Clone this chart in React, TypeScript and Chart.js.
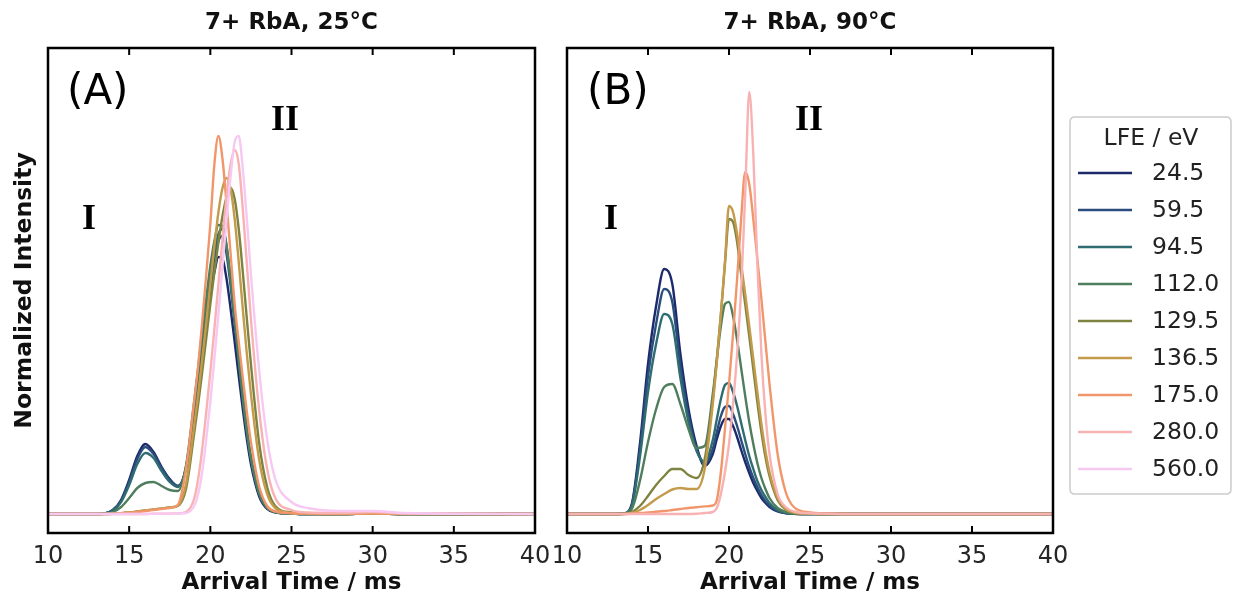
import React, { useEffect, useRef } from "react";
import { Chart, registerables } from "chart.js";
Chart.register(...registerables);

// Arrival time grid (ms)
const T = [10, 13, 13.5, 14, 14.5, 15, 15.5, 16, 16.5, 17, 17.5, 18, 18.5, 19, 19.25, 19.5, 19.75, 20, 20.25, 20.5, 20.75, 21, 21.25, 21.5, 21.75, 22, 22.25, 22.5, 23, 23.5, 24, 25, 26, 28, 30, 32, 40];

const LFE_LABELS = ["24.5", "59.5", "94.5", "112.0", "129.5", "136.5", "175.0", "280.0", "560.0"];
const COLORS = ["#1c2a6b", "#2b4d7d", "#2e6c72", "#4f7e5e", "#7f8340", "#c49a4b", "#f1966b", "#f8b2b3", "#f7c9f2"];
const X_TICKS = [10, 15, 20, 25, 30, 35, 40];

// Panel A: 25 °C
const A_24_5 = [0, 0, 0.005, 0.04, 0.14, 0.34, 0.58, 0.70, 0.62, 0.47, 0.35, 0.28, 0.45, 1.0, 1.3, 1.62, 1.92, 2.2, 2.42, 2.57, 2.55, 2.35, 2.05, 1.72, 1.38, 1.05, 0.75, 0.5, 0.18, 0.05, 0.015, 0.005, 0, 0, 0.005, 0, 0];
const A_59_5 = [0, 0, 0.005, 0.04, 0.13, 0.32, 0.55, 0.67, 0.60, 0.46, 0.34, 0.28, 0.46, 1.02, 1.34, 1.68, 2.0, 2.3, 2.55, 2.73, 2.78, 2.6, 2.28, 1.9, 1.52, 1.15, 0.82, 0.55, 0.2, 0.06, 0.02, 0.005, 0, 0, 0.005, 0, 0];
const A_94_5 = [0, 0, 0.004, 0.035, 0.12, 0.29, 0.5, 0.61, 0.56, 0.43, 0.32, 0.27, 0.47, 1.05, 1.38, 1.72, 2.05, 2.36, 2.62, 2.8, 2.85, 2.68, 2.35, 1.96, 1.56, 1.18, 0.85, 0.57, 0.21, 0.06, 0.02, 0.005, 0, 0, 0.005, 0, 0];
const A_112 = [0, 0, 0.003, 0.02, 0.07, 0.16, 0.26, 0.31, 0.32, 0.28, 0.24, 0.23, 0.48, 1.12, 1.46, 1.82, 2.16, 2.48, 2.73, 2.89, 2.88, 2.68, 2.34, 1.94, 1.54, 1.16, 0.83, 0.56, 0.21, 0.06, 0.02, 0.005, 0, 0, 0.005, 0, 0];
const A_129_5 = [0, 0, 0, 0.003, 0.008, 0.015, 0.025, 0.035, 0.045, 0.055, 0.065, 0.08, 0.25, 0.8, 1.1, 1.42, 1.76, 2.1, 2.42, 2.72, 2.98, 3.17, 3.26, 3.15, 2.85, 2.42, 1.95, 1.5, 0.72, 0.27, 0.08, 0.015, 0.005, 0, 0.005, 0, 0];
const A_136_5 = [0, 0, 0, 0.003, 0.008, 0.015, 0.025, 0.035, 0.045, 0.055, 0.065, 0.085, 0.3, 0.88, 1.2, 1.55, 1.92, 2.3, 2.68, 3.02, 3.26, 3.36, 3.25, 2.95, 2.52, 2.05, 1.6, 1.2, 0.55, 0.2, 0.06, 0.01, 0.003, 0, 0.005, 0, 0];
const A_175 = [0, 0, 0, 0.002, 0.006, 0.012, 0.02, 0.03, 0.04, 0.05, 0.06, 0.09, 0.45, 1.12, 1.48, 1.92, 2.4, 2.9, 3.5, 3.78, 3.55, 3.1, 2.6, 2.1, 1.72, 1.36, 1.02, 0.72, 0.28, 0.08, 0.025, 0.008, 0.004, 0.003, 0.008, 0.002, 0];
const A_280 = [0, 0, 0, 0, 0, 0, 0, 0, 0.002, 0.003, 0.004, 0.006, 0.02, 0.15, 0.35, 0.65, 1.02, 1.42, 1.85, 2.3, 2.75, 3.18, 3.5, 3.64, 3.5, 3.05, 2.5, 1.95, 1.05, 0.45, 0.16, 0.04, 0.015, 0.01, 0.02, 0.005, 0];
const A_560 = [0, 0, 0, 0, 0, 0, 0, 0, 0.002, 0.003, 0.004, 0.005, 0.01, 0.08, 0.2, 0.42, 0.75, 1.12, 1.55, 2.0, 2.48, 2.95, 3.38, 3.72, 3.78, 3.45, 2.95, 2.4, 1.45, 0.75, 0.35, 0.12, 0.06, 0.03, 0.03, 0.01, 0];

// Panel B: 90 °C
const B_24_5 = [0, 0, 0.005, 0.1, 0.7, 1.5, 2.08, 2.45, 2.3, 1.6, 1.05, 0.68, 0.48, 0.6, 0.75, 0.88, 0.95, 0.95, 0.88, 0.77, 0.64, 0.52, 0.41, 0.31, 0.23, 0.16, 0.11, 0.07, 0.025, 0.008, 0.003, 0, 0, 0, 0, 0, 0];
const B_59_5 = [0, 0, 0.005, 0.09, 0.64, 1.38, 1.9, 2.25, 2.12, 1.48, 0.98, 0.65, 0.5, 0.65, 0.82, 0.98, 1.07, 1.08, 1.0, 0.88, 0.74, 0.6, 0.47, 0.36, 0.27, 0.19, 0.13, 0.085, 0.03, 0.01, 0.003, 0, 0, 0, 0, 0, 0];
const B_94_5 = [0, 0, 0.004, 0.08, 0.57, 1.22, 1.7, 2.0, 1.9, 1.36, 0.92, 0.63, 0.52, 0.74, 0.95, 1.15, 1.29, 1.31, 1.22, 1.08, 0.91, 0.74, 0.58, 0.45, 0.33, 0.24, 0.17, 0.11, 0.04, 0.013, 0.004, 0, 0, 0, 0, 0, 0];
const B_112 = [0, 0, 0.003, 0.05, 0.33, 0.72, 1.05, 1.27, 1.3, 1.1, 0.85, 0.66, 0.68, 1.2, 1.55, 1.88, 2.1, 2.12, 1.98, 1.74, 1.46, 1.18, 0.92, 0.7, 0.51, 0.36, 0.25, 0.16, 0.06, 0.02, 0.005, 0, 0, 0, 0, 0, 0];
const B_129_5 = [0, 0, 0, 0.02, 0.08, 0.18, 0.29, 0.38, 0.45, 0.45, 0.39, 0.36, 0.55, 1.15, 1.55, 2.0, 2.5, 2.95, 2.92, 2.72, 2.4, 2.1, 1.78, 1.45, 1.12, 0.82, 0.57, 0.38, 0.14, 0.045, 0.012, 0.002, 0, 0, 0, 0, 0];
const B_136_5 = [0, 0, 0, 0.01, 0.04, 0.09, 0.15, 0.2, 0.245, 0.26, 0.25, 0.25, 0.45, 1.1, 1.52, 2.0, 2.52, 3.08, 3.02, 2.8, 2.5, 2.2, 1.88, 1.55, 1.22, 0.9, 0.63, 0.42, 0.16, 0.05, 0.015, 0.003, 0, 0, 0, 0, 0];
const B_175 = [0, 0, 0, 0.005, 0.01, 0.015, 0.022, 0.03, 0.04, 0.05, 0.06, 0.068, 0.076, 0.085, 0.14, 0.42, 0.85, 1.3, 1.8, 2.35, 2.95, 3.42, 3.3, 2.95, 2.55, 2.15, 1.72, 1.3, 0.6, 0.22, 0.07, 0.015, 0.005, 0, 0, 0, 0];
const B_280 = [0, 0, 0, 0, 0, 0, 0, 0, 0, 0, 0, 0.003, 0.01, 0.02, 0.06, 0.2, 0.42, 0.7, 1.1, 1.6, 2.25, 3.2, 4.22, 3.6, 2.5, 1.6, 1.0, 0.6, 0.2, 0.07, 0.025, 0.008, 0.003, 0, 0, 0, 0];

const SERIES_A = [A_24_5, A_59_5, A_94_5, A_112, A_129_5, A_136_5, A_175, A_280, A_560];
const SERIES_B = [B_24_5, B_59_5, B_94_5, B_112, B_129_5, B_136_5, B_175, B_280];

const SANS = '"DejaVu Sans", sans-serif';
const SERIF = '"Liberation Serif", "DejaVu Serif", serif';

type PanelProps = {
  left: number;
  width: number;
  padLeft: number;
  padRight: number;
  series: number[][];
  title: string;
  tag: string;
  tagX: number;
  iX: number;
  iiX: number;
  yLabel?: boolean;
  legend?: boolean;
};

function Panel(p: PanelProps) {
  const ref = useRef<HTMLCanvasElement | null>(null);
  useEffect(() => {
    if (!ref.current) return;
    const off = p.left;
    const decor = {
      id: "decor",
      afterDraw(chart: any) {
        const { ctx, chartArea: ca, scales } = chart;
        ctx.save();
        ctx.strokeStyle = "#000";
        ctx.lineWidth = 2;
        for (const v of X_TICKS) {
          if (v === 10 || v === 40) continue;
          const x = scales.x.getPixelForValue(v);
          ctx.beginPath();
          ctx.moveTo(x, ca.bottom);
          ctx.lineTo(x, ca.bottom - 7);
          ctx.moveTo(x, ca.top);
          ctx.lineTo(x, ca.top + 7);
          ctx.stroke();
        }
        ctx.lineWidth = 2.5;
        ctx.strokeRect(ca.left, ca.top, ca.right - ca.left, ca.bottom - ca.top);
        const cx = (ca.left + ca.right) / 2;
        ctx.fillStyle = "#111";
        ctx.textAlign = "center";
        ctx.textBaseline = "middle";
        ctx.font = `bold 23px ${SANS}`;
        ctx.fillText(p.title, cx, 23);
        ctx.fillText("Arrival Time / ms", cx, 583);
        if (p.yLabel) {
          ctx.save();
          ctx.translate(25 - off, (ca.top + ca.bottom) / 2);
          ctx.rotate(-Math.PI / 2);
          ctx.font = `bold 23.5px ${SANS}`;
          ctx.fillText("Normalized Intensity", 0, 0);
          ctx.restore();
        }
        ctx.fillStyle = "#000";
        ctx.font = `42px ${SANS}`;
        ctx.textAlign = "left";
        ctx.fillText(p.tag, p.tagX - off, 93);
        ctx.font = `bold 36px ${SERIF}`;
        ctx.textAlign = "center";
        ctx.fillText("II", p.iiX - off, 121);
        ctx.fillText("I", p.iX - off, 220);
        if (p.legend) {
          const bx = 1070 - off, by = 117, bw = 161, bh = 377, r = 5;
          ctx.beginPath();
          ctx.moveTo(bx + r, by);
          ctx.lineTo(bx + bw - r, by);
          ctx.quadraticCurveTo(bx + bw, by, bx + bw, by + r);
          ctx.lineTo(bx + bw, by + bh - r);
          ctx.quadraticCurveTo(bx + bw, by + bh, bx + bw - r, by + bh);
          ctx.lineTo(bx + r, by + bh);
          ctx.quadraticCurveTo(bx, by + bh, bx, by + bh - r);
          ctx.lineTo(bx, by + r);
          ctx.quadraticCurveTo(bx, by, bx + r, by);
          ctx.closePath();
          ctx.fillStyle = "rgba(255,255,255,0.9)";
          ctx.fill();
          ctx.strokeStyle = "#cccccc";
          ctx.lineWidth = 1.5;
          ctx.stroke();
          ctx.fillStyle = "#222";
          ctx.font = `23.5px ${SANS}`;
          ctx.textAlign = "center";
          ctx.fillText("LFE / eV", 1151 - off, 139);
          ctx.textAlign = "left";
          LFE_LABELS.forEach((lab, i) => {
            const y = 173 + 37 * i;
            ctx.strokeStyle = COLORS[i];
            ctx.lineWidth = 2.5;
            ctx.beginPath();
            ctx.moveTo(1078 - off, y);
            ctx.lineTo(1132 - off, y);
            ctx.stroke();
            ctx.fillStyle = "#222";
            ctx.fillText(lab, 1152 - off, y + 1);
          });
        }
        ctx.restore();
      },
    };
    const n = p.series.length;
    const chart = new Chart(ref.current, {
      type: "line",
      data: {
        datasets: p.series.map((s, i) => ({
          label: LFE_LABELS[i],
          data: T.map((t, k) => ({ x: t, y: s[k] })),
          borderColor: COLORS[i],
          borderWidth: 2.4,
          pointRadius: 0,
          cubicInterpolationMode: "monotone" as const,
          order: n - i,
        })),
      },
      options: {
        animation: false,
        responsive: false,
        devicePixelRatio: 1,
        layout: { padding: { left: p.padLeft, right: p.padRight, top: 48, bottom: 0 } },
        plugins: { legend: { display: false }, tooltip: { enabled: false } },
        scales: {
          x: {
            type: "linear",
            min: 10,
            max: 40,
            afterBuildTicks: (s: any) => {
              s.ticks = X_TICKS.map((v) => ({ value: v }));
            },
            afterFit: (s: any) => {
              s.height = 63;
              s.paddingLeft = 0;
              s.paddingRight = 0;
            },
            grid: { display: false },
            border: { display: false },
            ticks: {
              autoSkip: false,
              maxRotation: 0,
              padding: 1,
              color: "#262626",
              font: { family: SANS, size: 24 },
            },
          },
          y: { display: false, min: -0.19, max: 4.66 },
        },
      },
      plugins: [decor],
    } as any);
    return () => chart.destroy();
  }, []);
  return (
    <canvas
      ref={ref}
      width={p.width}
      height={596}
      style={{ position: "absolute", left: p.left, top: 0, width: p.width, height: 596 }}
    />
  );
}

export default function App() {
  return (
    <div style={{ position: "fixed", left: 0, top: 0, width: 1233, height: 596, background: "#fff", overflow: "hidden" }}>
      <Panel left={0} width={560} padLeft={48} padRight={25} series={SERIES_A} title="7+ RbA, 25°C" tag="(A)" tagX={67} iX={89} iiX={285} yLabel />
      <Panel left={545} width={688} padLeft={22} padRight={180} series={SERIES_B} title="7+ RbA, 90°C" tag="(B)" tagX={587} iX={611} iiX={809} legend />
    </div>
  );
}
